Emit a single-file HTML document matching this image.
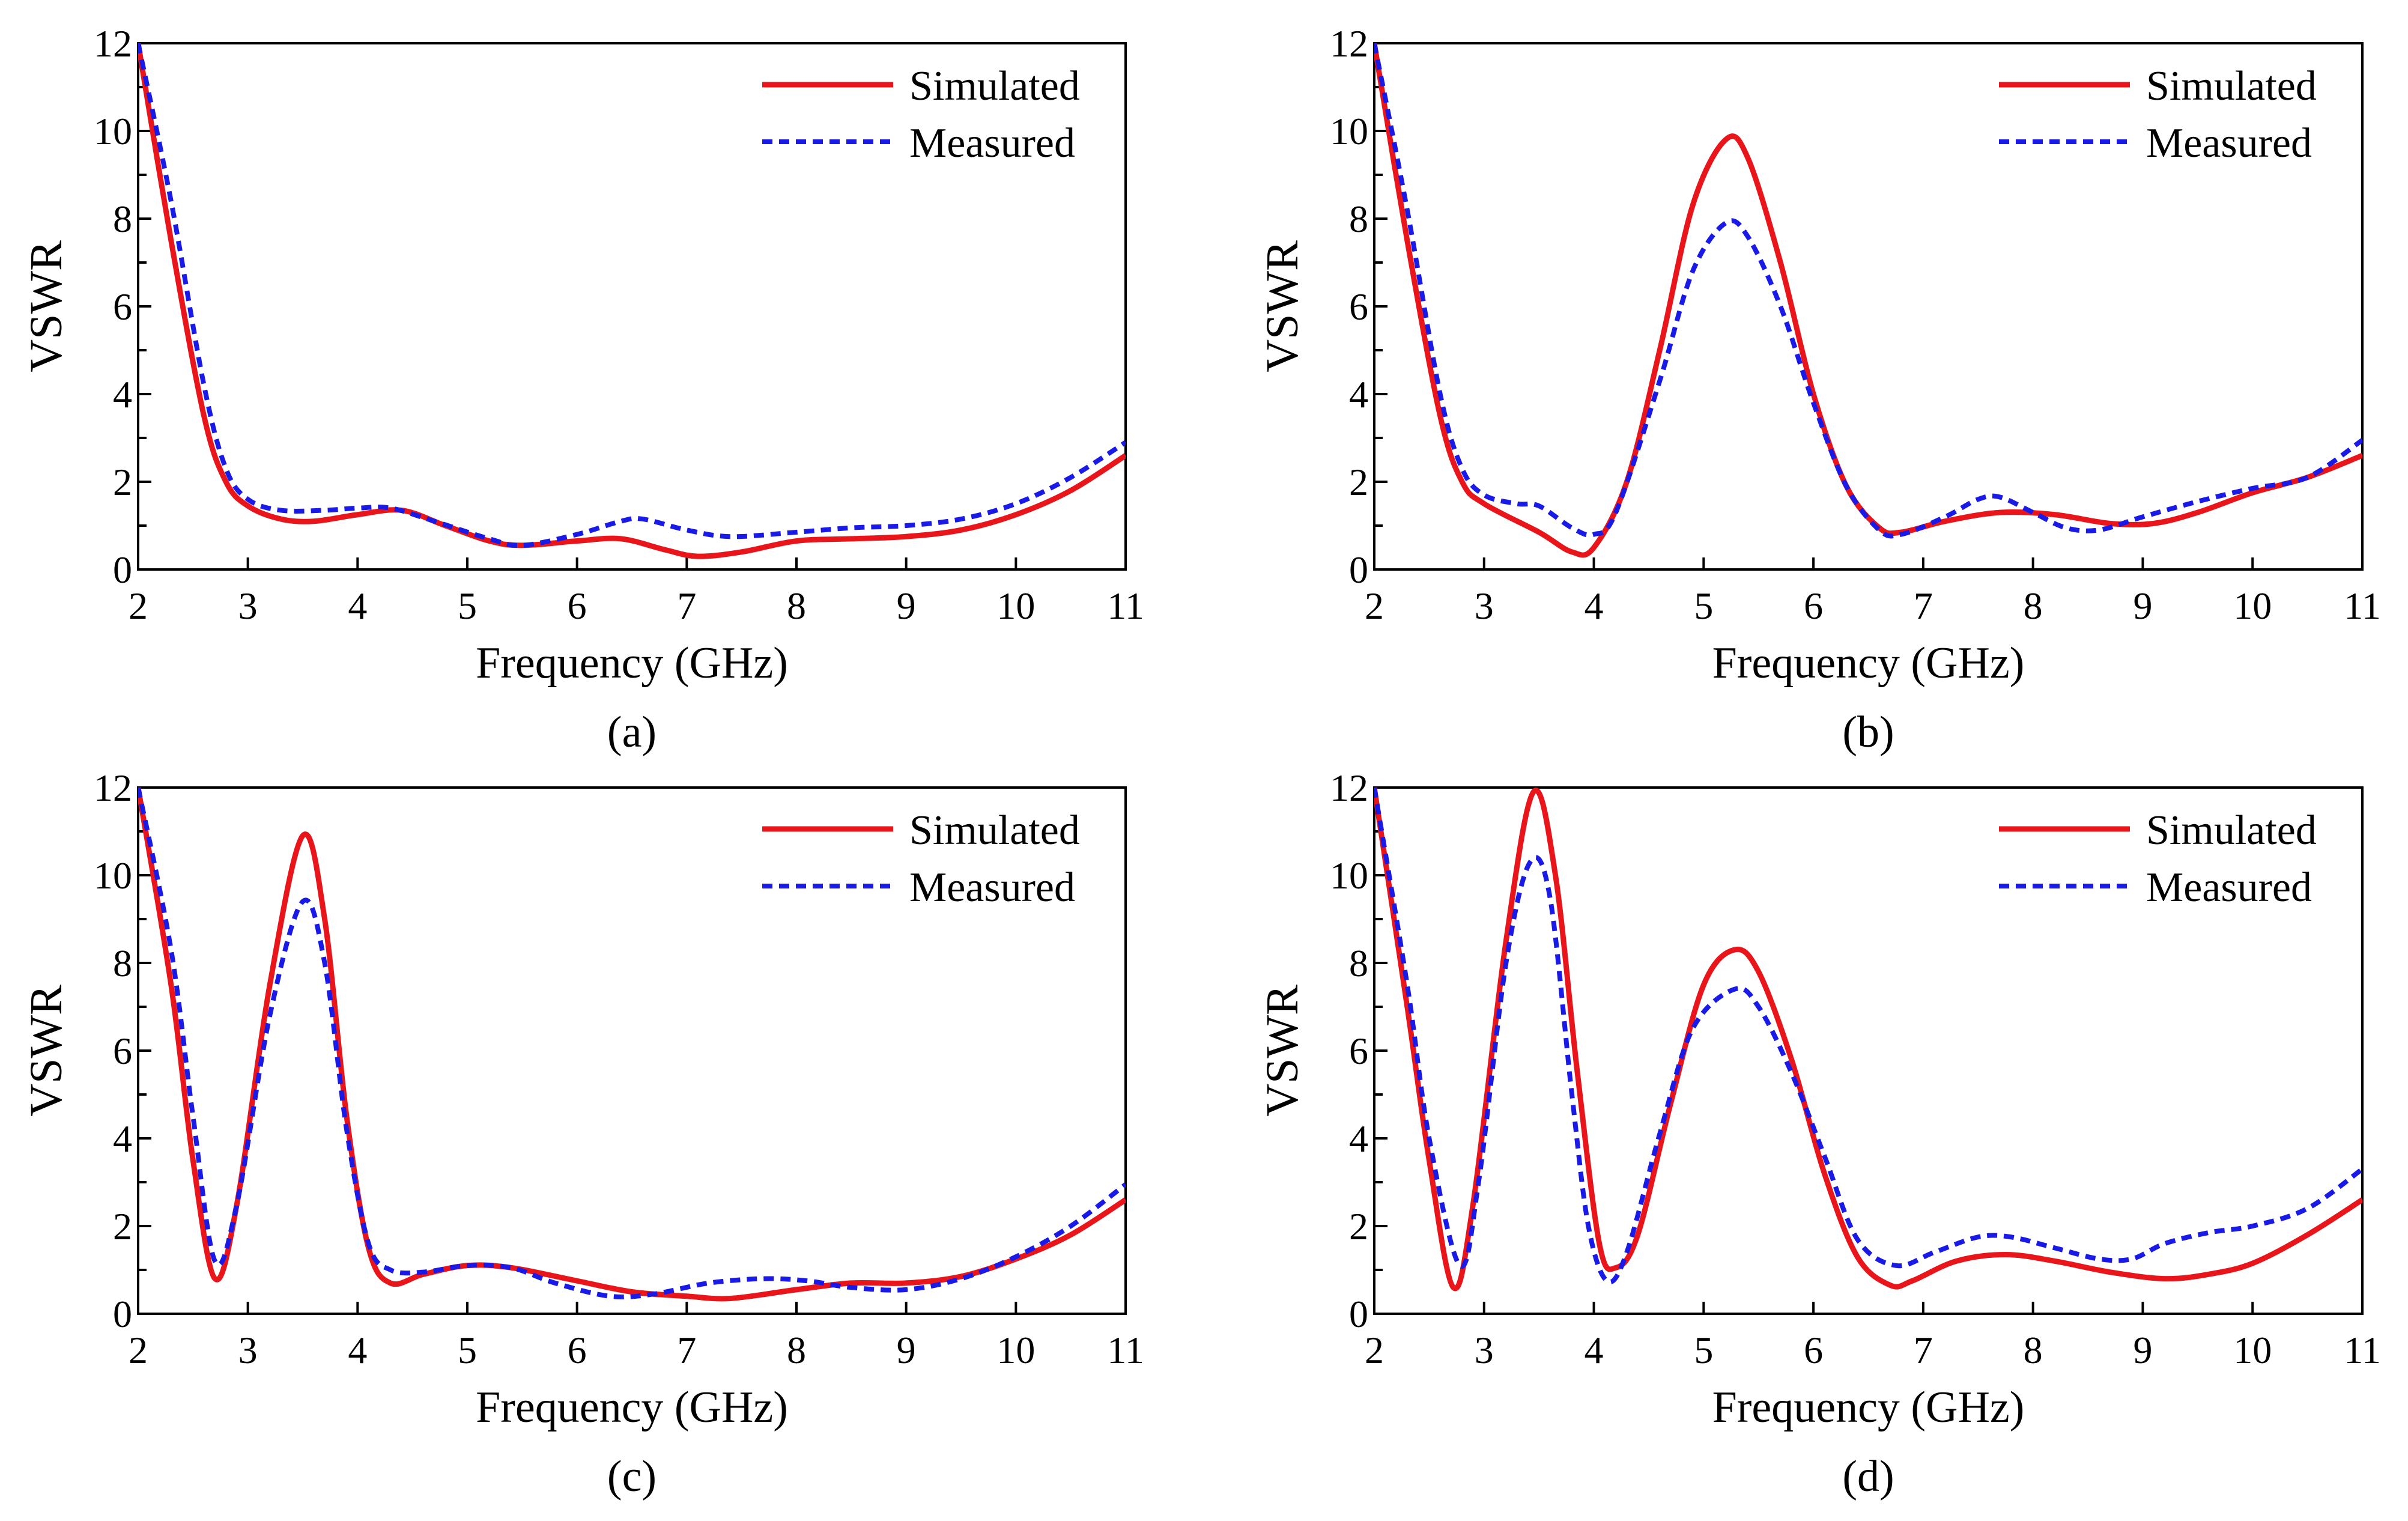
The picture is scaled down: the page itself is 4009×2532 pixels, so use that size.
<!DOCTYPE html>
<html><head><meta charset="utf-8"><style>
html,body{margin:0;padding:0;background:#fff;}
svg{display:block;font-family:"Liberation Serif",serif;}
</style></head><body>
<svg id="fig" width="4009" height="2532" viewBox="0 0 4009 2532" xmlns="http://www.w3.org/2000/svg"></svg>
<script>
const xTicks=[2,3,4,5,6,7,8,9,10,11];
const yTicks=[0,2,4,6,8,10,12];
const panelLabels=["(a)","(b)","(c)","(d)"];
const seriesNames=["Simulated","Measured"];
const simA=[[2,12],[2.3,7.5],[2.6,3.5],[2.8,2],[3,1.45],[3.3,1.15],[3.6,1.1],[4,1.25],[4.4,1.35],[4.8,1.0],[5.2,0.65],[5.5,0.55],[6,0.65],[6.4,0.7],[6.8,0.45],[7.1,0.3],[7.5,0.4],[8,0.65],[8.5,0.7],[9,0.75],[9.5,0.9],[10,1.25],[10.5,1.8],[11,2.6]];
const measA=[[2,12],[2.3,8.4],[2.6,4.2],[2.8,2.3],[3,1.6],[3.3,1.35],[3.7,1.35],[4,1.4],[4.3,1.4],[4.7,1.1],[5.2,0.7],[5.5,0.55],[6,0.8],[6.4,1.1],[6.6,1.15],[7,0.9],[7.4,0.75],[8,0.85],[8.5,0.95],[9,1.0],[9.5,1.15],[10,1.5],[10.5,2.1],[11,2.9]];
const simB=[[2,12],[2.3,7.5],[2.6,3.5],[2.8,2.0],[3,1.5],[3.5,0.85],[3.8,0.4],[4,0.5],[4.3,2],[4.6,5],[4.9,8.3],[5.2,9.8],[5.4,9.4],[5.7,7],[6,4],[6.3,1.9],[6.6,0.95],[6.8,0.85],[7.2,1.1],[7.7,1.3],[8.2,1.25],[8.7,1.05],[9.1,1.05],[9.5,1.3],[10,1.75],[10.5,2.1],[11,2.6]];
const measB=[[2,12],[2.3,8.2],[2.6,4.0],[2.8,2.3],[3,1.7],[3.3,1.5],[3.5,1.45],[3.8,0.95],[4,0.8],[4.2,1.3],[4.6,4.3],[4.9,6.8],[5.2,7.9],[5.4,7.6],[5.7,6],[6,3.8],[6.3,1.9],[6.6,0.9],[6.8,0.8],[7.2,1.2],[7.5,1.6],[7.7,1.65],[8,1.3],[8.3,0.95],[8.6,0.9],[9,1.2],[9.5,1.55],[10,1.85],[10.5,2.1],[11,2.95]];
const simC=[[2,12],[2.3,7.5],[2.5,3.5],[2.7,0.8],[2.9,2.5],[3.2,7.5],[3.5,10.9],[3.7,9],[3.9,4.5],[4.1,1.5],[4.3,0.7],[4.6,0.9],[5,1.1],[5.4,1.05],[6,0.75],[6.5,0.5],[7,0.4],[7.4,0.35],[8,0.55],[8.5,0.7],[9,0.7],[9.5,0.85],[10,1.25],[10.5,1.8],[11,2.6]];
const measC=[[2,12],[2.3,8.3],[2.5,4.5],[2.7,1.2],[2.9,2.5],[3.2,6.8],[3.5,9.4],[3.7,8],[3.9,4.2],[4.1,1.6],[4.3,1.0],[4.6,0.95],[5,1.1],[5.4,1.05],[5.8,0.7],[6.3,0.4],[6.7,0.45],[7.2,0.7],[7.7,0.8],[8.1,0.75],[8.5,0.6],[9,0.55],[9.5,0.8],[10,1.3],[10.5,2],[11,2.95]];
const simD=[[2,12],[2.3,7],[2.5,3.5],[2.72,0.6],[2.9,2.5],[3.2,8.5],[3.45,11.9],[3.65,10],[3.85,5.5],[4.05,1.6],[4.2,1.05],[4.4,1.8],[4.7,4.8],[5.0,7.5],[5.28,8.3],[5.5,7.8],[5.8,5.8],[6.1,3.2],[6.4,1.3],[6.7,0.65],[6.9,0.75],[7.3,1.2],[7.75,1.35],[8.2,1.2],[8.7,0.95],[9.2,0.8],[9.6,0.9],[10,1.15],[10.5,1.8],[11,2.6]];
const measD=[[2,12],[2.3,7.5],[2.5,4],[2.78,1.1],[2.95,3],[3.2,8],[3.42,10.3],[3.6,9.5],[3.8,5],[3.95,2],[4.12,0.75],[4.3,1.4],[4.6,4.1],[4.9,6.5],[5.28,7.4],[5.5,7.0],[5.8,5.5],[6.1,3.6],[6.4,1.7],[6.75,1.1],[7.1,1.4],[7.5,1.75],[7.8,1.75],[8.2,1.5],[8.6,1.25],[8.9,1.25],[9.2,1.6],[9.6,1.85],[10,2.0],[10.5,2.4],[11,3.3]];

const NS="http://www.w3.org/2000/svg";
const svg=document.getElementById('fig');
function mk(tag,attrs,parent){const e=document.createElementNS(NS,tag);for(const k in attrs)e.setAttribute(k,attrs[k]);(parent||svg).appendChild(e);return e;}
function smooth(pts){let d="M"+pts[0][0]+","+pts[0][1];for(let i=0;i<pts.length-1;i++){const p0=pts[i-1]||pts[i],p1=pts[i],p2=pts[i+1],p3=pts[i+2]||p2;const c1=[p1[0]+(p2[0]-p0[0])/6,p1[1]+(p2[1]-p0[1])/6],c2=[p2[0]-(p3[0]-p1[0])/6,p2[1]-(p3[1]-p1[1])/6];d+=" C"+c1[0]+","+c1[1]+" "+c2[0]+","+c2[1]+" "+p2[0]+","+p2[1];}return d;}

const panels=[
 {L:230,R:1874,T:72,B:948,sim:simA,meas:measA},
 {L:2288,R:3933,T:72,B:948,sim:simB,meas:measB},
 {L:230,R:1874,T:1311,B:2187,sim:simC,meas:measC},
 {L:2288,R:3933,T:1311,B:2187,sim:simD,meas:measD}];

panels.forEach((p,i)=>{
 const g=mk('g',{});
 
 
 const xs=v=>p.L+(v-2)/9*(p.R-p.L);
 const ys=v=>p.B-v/12*(p.B-p.T);
 const cp=mk('clipPath',{id:'clip'+i},g);
 mk('rect',{x:p.L,y:p.T-6,width:p.R-p.L,height:p.B-p.T+6},cp);
 xTicks.forEach(t=>{
  const l=mk('line',{x1:xs(t),x2:xs(t),y1:p.B,y2:p.B-20,stroke:'#000','stroke-width':4},g);
  
  
  const tx=mk('text',{x:xs(t),y:p.B+82,'text-anchor':'middle','font-size':64},g);tx.textContent=t;
  
  
 });
 for(let v=1;v<12;v+=2){mk('line',{x1:p.L,x2:p.L+14,y1:ys(v),y2:ys(v),stroke:'#000','stroke-width':4},g);}
 yTicks.forEach(t=>{
  mk('line',{x1:p.L,x2:p.L+22,y1:ys(t),y2:ys(t),stroke:'#000','stroke-width':4},g);
  const tx=mk('text',{x:p.L-10,y:ys(t)+22,'text-anchor':'end','font-size':64},g);tx.textContent=t;
  
  
 });
 const box=mk('rect',{x:p.L,y:p.T,width:p.R-p.L,height:p.B-p.T,fill:'none',stroke:'#000','stroke-width':4},g);
 
 
 const sp=mk('path',{d:smooth(p.sim.map(q=>[xs(q[0]),ys(q[1])])),fill:'none',stroke:'#e8161b','stroke-width':9,'clip-path':'url(#clip'+i+')'},g);
 
 
 const mp=mk('path',{d:smooth(p.meas.map(q=>[xs(q[0]),ys(q[1])])),fill:'none',stroke:'#1a1ae6','stroke-width':8,'stroke-dasharray':'17 11','clip-path':'url(#clip'+i+')'},g);
 
 
 const lx=p.R-605;
 const l1=mk('line',{x1:lx,x2:lx+218,y1:p.T+69,y2:p.T+69,stroke:'#e8161b','stroke-width':9},g);
 
 
 const t1=mk('text',{x:lx+245,y:p.T+94,'font-size':70},g);t1.textContent=seriesNames[0];
 
 
 const l2=mk('line',{x1:lx,x2:lx+218,y1:p.T+164,y2:p.T+164,stroke:'#1a1ae6','stroke-width':8,'stroke-dasharray':'17 11'},g);
 
 
 const t2=mk('text',{x:lx+245,y:p.T+189,'font-size':70},g);t2.textContent=seriesNames[1];
 
 
 const xt=mk('text',{x:(p.L+p.R)/2,y:p.B+180,'text-anchor':'middle','font-size':74},g);xt.textContent='Frequency (GHz)';
 
 
 const yt=mk('text',{x:0,y:0,'text-anchor':'middle','font-size':76,transform:'translate('+(p.L-128)+','+((p.T+p.B)/2)+') rotate(-90)'},g);yt.textContent='VSWR';
 
 
 const pl=mk('text',{x:(p.L+p.R)/2,y:p.B+295,'text-anchor':'middle','font-size':74},g);pl.textContent=panelLabels[i];
 
 
});
</script>
</body></html>
